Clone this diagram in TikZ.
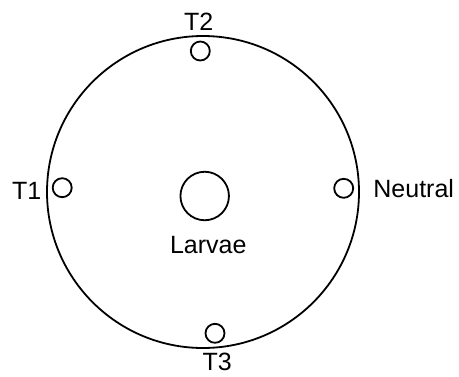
\documentclass[tikz,border=0pt]{standalone}
\usepackage{fontspec}
\setmainfont{Liberation Sans}
\begin{document}
\begin{tikzpicture}[x=1pt,y=-1pt,
  ring/.style={draw=black, line width=1.8pt, circle, inner sep=0pt},
  trap/.style={ring, minimum size=19pt},
  lbl/.style={inner sep=0pt, font=\fontsize{25}{30}\selectfont}]
  \useasboundingbox (0,0) rectangle (459,376);
  % arena
  \node[ring, minimum size=312pt] (arena) at (203,192) {};
  % larvae release point
  \node[ring, minimum size=48.5pt] (larvae) at (204.7,196) {};
  % odour sources
  \node[trap] (t1) at (62.2,187.7) {};
  \node[trap] (t2) at (200.3,51) {};
  \node[trap] (t3) at (215,333.3) {};
  \node[trap] (neutral) at (343.7,188.3) {};
  % labels
  \node[lbl] (lt1) at (26.7,190.8) {T1};
  \node[lbl] (lt2) at (198.7,22) {T2};
  \node[lbl] (lt3) at (217.3,361.7) {T3};
  \node[lbl] (lneutral) at (413.7,188.7) {Neutral};
  \node[lbl] (llarvae) at (208.3,245) {Larvae};
\end{tikzpicture}
\end{document}
